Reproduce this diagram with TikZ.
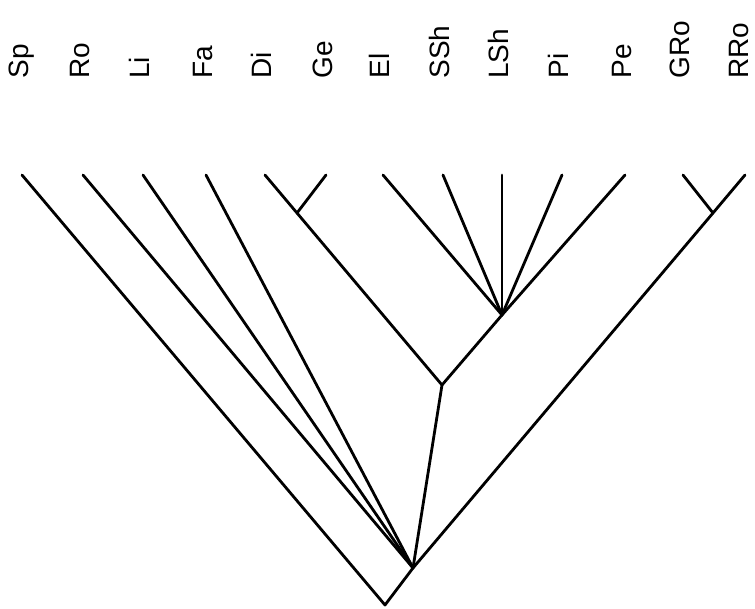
\documentclass[tikz,border=0pt]{standalone}
\usepackage{fontspec}
\setmainfont{Liberation Sans}
\usepackage{tikz}
\tikzstyle{taxon} = [rotate=90, anchor=mid west, inner sep=0pt,
                     font=\fontsize{14}{17}\selectfont]
\tikzstyle{branch} = [line width=1.4pt, line join=round, line cap=round]

\begin{document}
\begin{tikzpicture}[x=0.5pt, y=-0.5pt]
\useasboundingbox (0,0) rectangle (755,609);

%Taxa
\node[taxon] (sp) at (23,79) {Sp};
\node[taxon] (ro) at (84,79) {Ro};
\node[taxon] (li) at (144,79) {Li};
\node[taxon] (fa) at (207,79) {Fa};
\node[taxon] (di) at (266,79) {Di};
\node[taxon] (ge) at (327,79) {Ge};
\node[taxon] (el) at (384,79) {El};
\node[taxon] (ssh) at (444,79) {SSh};
\node[taxon] (lsh) at (503,79) {LSh};
\node[taxon] (pi) at (563,79) {Pi};
\node[taxon] (pe) at (626,79) {Pe};
\node[taxon] (gro) at (684,79) {GRo};
\node[taxon] (rro) at (743,79) {RRo};

%Tips
\coordinate (tipSp) at (22,175);
\coordinate (tipRo) at (83,175);
\coordinate (tipLi) at (143,175);
\coordinate (tipFa) at (206,175);
\coordinate (tipDi) at (265,175);
\coordinate (tipGe) at (326,175);
\coordinate (tipEl) at (383,175);
\coordinate (tipSSh) at (443,175);
\coordinate (tipLSh) at (502,175);
\coordinate (tipPi) at (562,175);
\coordinate (tipPe) at (625,175);
\coordinate (tipGRo) at (683,175);
\coordinate (tipRRo) at (745,175);

%Inner nodes
\coordinate (root) at (385,605);
\coordinate (core) at (413,568);
\coordinate (digeel) at (442,385);
\coordinate (dige) at (297,213);
\coordinate (shark) at (502,315);
\coordinate (rays) at (713,213);

%Branches
\draw[branch] (tipSp) -- (root) -- (core);
\draw[branch] (tipRo) -- (core);
\draw[branch] (tipLi) -- (core);
\draw[branch] (tipFa) -- (core);
\draw[branch] (core) -- (digeel);
\draw[branch] (tipDi) -- (dige) -- (digeel) -- (shark);
\draw[branch] (tipGe) -- (dige);
\draw[branch] (tipEl) -- (shark);
\draw[branch] (tipSSh) -- (shark);
\draw[branch] (tipLSh) -- (shark);
\draw[branch] (tipPi) -- (shark);
\draw[branch] (tipPe) -- (shark);
\draw[branch] (tipRRo) -- (rays) -- (core);
\draw[branch] (tipGRo) -- (rays);
\end{tikzpicture}
\end{document}
